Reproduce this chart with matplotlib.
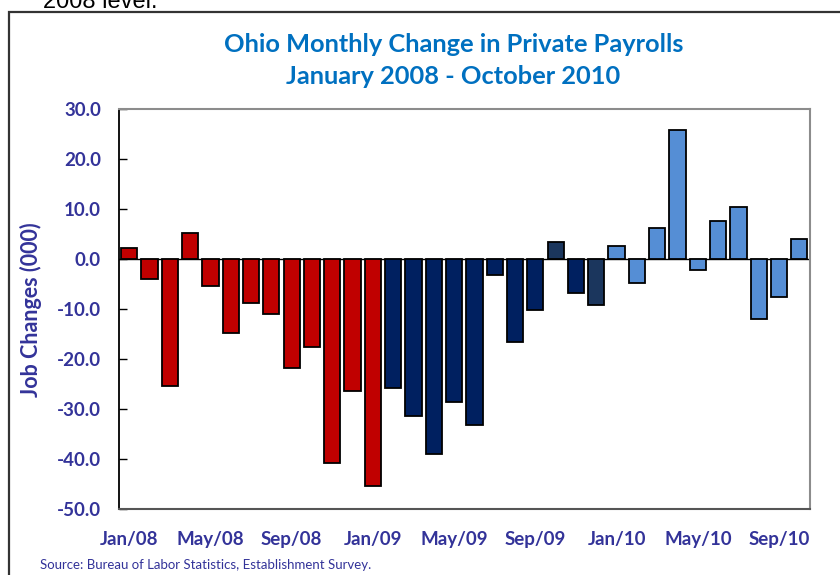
import matplotlib
matplotlib.use("Agg")
import matplotlib.pyplot as plt
from matplotlib.patches import Rectangle

# ---- data (thousands of jobs) ----
months = [f"{m}/{y}" for y in ("08", "09", "10")
          for m in ("Jan", "Feb", "Mar", "Apr", "May", "Jun",
                    "Jul", "Aug", "Sep", "Oct", "Nov", "Dec")][:34]
changes = [2.3, -3.9, -25.4, 5.3, -5.3, -14.8, -8.7, -10.9, -21.7, -17.5,
           -40.7, -26.3, -45.4,
           -25.7, -31.3, -39.0, -28.6, -33.1, -3.1, -16.5, -10.2,
           3.5, -6.7, -9.2,
           2.7, -4.7, 6.3, 25.9, -2.1, 7.7, 10.5, -11.9, -7.5, 4.1]
groups = ["red"] * 13 + ["navy"] * 8 + ["slate", "navy", "slate"] + ["light"] * 10
label_months = ["Jan/08", "May/08", "Sep/08", "Jan/09", "May/09",
                "Sep/09", "Jan/10", "May/10", "Sep/10"]
y_ticks = [30, 20, 10, 0, -10, -20, -30, -40, -50]

palette = {"red": "#C00000", "navy": "#002060",
           "slate": "#1B365D", "light": "#558ED5"}
label_blue = "#333399"

plt.rcParams['font.family'] = ['Lato', 'DejaVu Sans']

fig = plt.figure(figsize=(8.4, 5.75), dpi=100)
ax = fig.add_axes([0.1417, 0.1143, 0.8220, 0.6956])

x = list(range(len(changes)))
ax.bar(x, changes, width=0.8, color=[palette[g] for g in groups],
       edgecolor="black", linewidth=1.3, zorder=3)
ax.axhline(0, color="black", linewidth=1.0, zorder=2)

ax.set_xlim(-0.5, len(changes) - 0.5)
ax.set_ylim(-50, 30)
ax.set_yticks(y_ticks)
ax.set_yticklabels([f"{v:.1f}" for v in y_ticks], fontsize=13.5,
                   fontweight="bold", color=label_blue)
ax.tick_params(axis="y", direction="in", length=6, width=1, pad=13)

pos = [months.index(m) for m in label_months]
ax.set_xticks(pos)
ax.set_xticklabels(label_months, fontsize=13.5, fontweight="bold",
                   color=label_blue)
ax.tick_params(axis="x", length=0, pad=16)

ax.spines["left"].set_color("black")
ax.spines["left"].set_linewidth(1.3)
for side in ("top", "right", "bottom"):
    ax.spines[side].set_color("#8c8c8c")
    ax.spines[side].set_linewidth(1.5)
ax.spines["bottom"].set_color("#555555")

ax.set_ylabel("Job Changes (000)", fontsize=15.5, fontweight="bold",
              color=label_blue)
ax.yaxis.set_label_coords(-0.112, 0.5)

fig.text(0.54, 0.923, "Ohio Monthly Change in Private Payrolls",
         ha="center", va="center", fontsize=18.3, fontweight="bold",
         color="#0070C0")
fig.text(0.54, 0.867, "January 2008 - October 2010",
         ha="center", va="center", fontsize=18.3, fontweight="bold",
         color="#0070C0")
fig.text(0.048, 0.017, "Source: Bureau of Labor Statistics, Establishment Survey.",
         ha="left", va="center", fontsize=9.5, color=label_blue)

# text of the surrounding document, cut off at the top edge as in the page
fig.text(0.187, 0.997, "2008 level.", ha="right", va="center",
         fontsize=17, color="black", family="Liberation Sans")

# outer chart frame, running off the right and bottom edges
fig.patches.append(Rectangle((0.0105, -0.05), 1.2, 1.03, transform=fig.transFigure,
                             fill=False, edgecolor="#333333", linewidth=1.6))

fig.savefig("out.png", dpi=100)
